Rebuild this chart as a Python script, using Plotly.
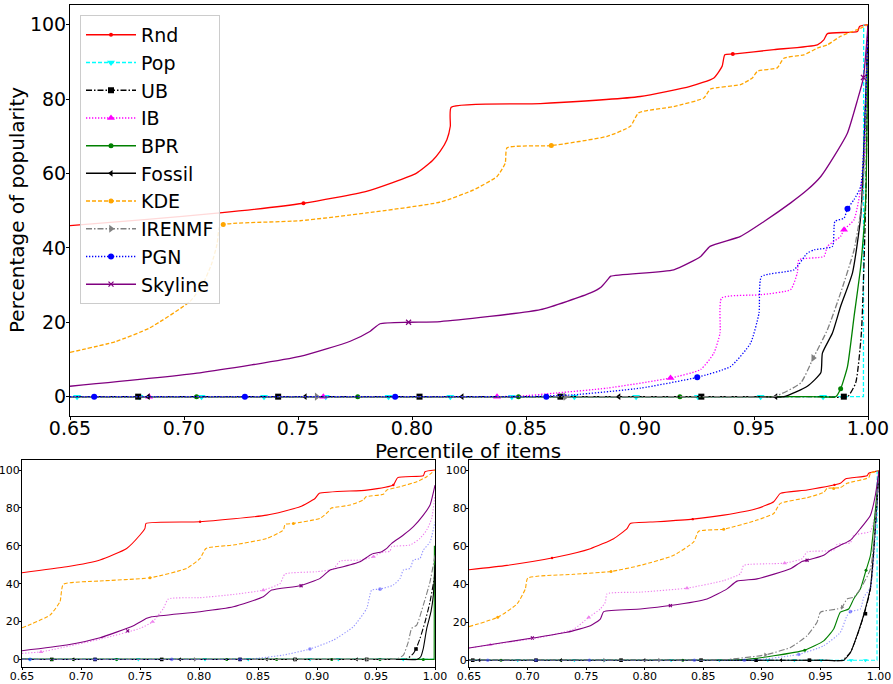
import plotly.graph_objects as go

# ---------------- series names and ticks ----------------
SERIES = ["Rnd", "Pop", "UB", "IB", "BPR", "Fossil", "KDE", "IRENMF", "PGN", "Skyline"]
X_TICKS = [0.65, 0.70, 0.75, 0.80, 0.85, 0.90, 0.95, 1.00]
X_TICK_TEXT = ["0.65", "0.70", "0.75", "0.80", "0.85", "0.90", "0.95", "1.00"]
Y_TICKS = [0, 20, 40, 60, 80, 100]

# ---------------- main panel (x, y) ----------------
main_rnd = [(0.65, 46.0), (0.6826, 47.6), (0.7157, 49.4), (0.7524, 52.0), (0.780, 55.2), (0.802, 60.1),
            (0.809, 63.5), (0.8124, 66.0), (0.8153, 69.1), (0.8168, 72.7), (0.8172, 77.8), (0.8563, 78.8),
            (0.9001, 80.7), (0.922, 83.4), (0.9324, 85.7), (0.936, 88.8), (0.9372, 91.9), (0.9407, 92.1),
            (0.9588, 93.3), (0.9778, 94.6), (0.9807, 96.0), (0.9822, 97.6), (0.9954, 98.2), (0.9963, 99.5), (1.0, 100)]
main_pop = [(0.65, 0), (0.998, 0), (0.9981, 100)]
main_ub = [(0.65, 0), (0.98, 0), (0.991, 0), (0.9946, 3.7), (0.9971, 17.1), (0.999, 53), (1.0, 100)]
main_ib = [(0.65, 0), (0.82, 0), (0.846, 0.1), (0.8636, 1.0), (0.8856, 2.3), (0.9134, 5.0), (0.9266, 7.3), (0.9324, 11.7),
           (0.9351, 17.1), (0.9358, 26.5), (0.9529, 27.4), (0.9661, 28.8), (0.969, 33.3), (0.9697, 36.8),
           (0.9807, 37.7), (0.9822, 40.4), (0.988, 43.1), (0.9895, 44.9), (0.9939, 47.6), (0.9982, 61.9), (1.0, 100)]
main_bpr = [(0.65, 0), (0.975, 0), (0.9859, 0), (0.988, 2.1), (0.991, 8.1), (0.9939, 21.6), (0.9968, 35), (0.999, 53), (1.0, 100)]
main_fossil = [(0.65, 0), (0.95, 0), (0.9632, 0), (0.9734, 2.8), (0.9793, 6.4), (0.980, 11.7), (0.9844, 17.1), (0.988, 24.3),
               (0.9932, 33.3), (0.9968, 48.5), (1.0, 100)]
main_kde = [(0.65, 11.9), (0.67, 14.8), (0.685, 18.5), (0.7026, 25.6), (0.708, 30.0), (0.712, 35.5), (0.7145, 41.0),
            (0.7155, 45.5), (0.7172, 46.3), (0.7509, 47.3), (0.7802, 49.4), (0.8124, 52.3), (0.827, 55.6),
            (0.8373, 59.2), (0.8409, 62.8), (0.8417, 66.9), (0.8611, 67.5), (0.8856, 70.0), (0.8958, 72.7),
            (0.8994, 76.3), (0.9148, 78.0), (0.928, 80.3), (0.9309, 82.7), (0.9441, 83.9), (0.9493, 85.7),
            (0.9515, 87.5), (0.9602, 88.4), (0.9631, 91.0), (0.9719, 91.9), (0.9778, 93.7), (0.9822, 94.6),
            (0.988, 96.9), (0.9954, 98.7), (1.0, 100)]
main_irenmf = [(0.65, 0), (0.945, 0), (0.9588, 0), (0.9705, 3.7), (0.976, 10.4), (0.9822, 18.0), (0.988, 27.9), (0.9939, 39.5),
               (0.9975, 53), (1.0, 100)]
main_pgn = [(0.65, 0), (0.83, 0), (0.85, 0), (0.8709, 0.5), (0.9002, 2.3), (0.9251, 5.2), (0.9397, 8.1), (0.9485, 14.4),
            (0.9522, 22.5), (0.9533, 32.3), (0.9675, 34.1), (0.9734, 38.6), (0.9766, 39.5), (0.9844, 40.4),
            (0.9855, 47.1), (0.9895, 48.0), (0.991, 50.5), (0.9939, 53), (0.9968, 56.5), (1.0, 100)]
main_skyline = [(0.65, 2.8), (0.707, 6.4), (0.7509, 10.8), (0.7729, 14.9), (0.7817, 17.6), (0.786, 19.6),
                (0.7985, 20.0), (0.8124, 20.2), (0.8563, 23.4), (0.8783, 27.9), (0.883, 29.5), (0.886, 31.6),
                (0.8872, 32.4), (0.9148, 34.1), (0.9266, 37.7), (0.9307, 40.4), (0.9441, 43.1), (0.9544, 47.1),
                (0.9661, 52.1), (0.9734, 55.6), (0.9793, 59.2), (0.9851, 64.6), (0.991, 70.9), (0.9954, 79.8),
                (0.998, 85.8), (1.0, 100)]

# main panel marker positions
main_rnd_mk = [(0.7524, 52.0), (0.9407, 92.1)]
main_pop_mk = [(0.6531, 0), (0.6804, 0), (0.7077, 0), (0.7351, 0), (0.7622, 0), (0.7897, 0), (0.8168, 0),
               (0.8438, 0), (0.8712, 0), (0.8983, 0), (0.9254, 0), (0.9529, 0), (0.9803, 0)]
main_ub_mk = [(0.6799, 0), (0.7413, 0), (0.8033, 0), (0.8651, 0), (0.9269, 0), (0.9894, 0)]
main_ib_mk = [(0.6847, 0), (0.7611, 0), (0.8373, 0), (0.9134, 5.0), (0.9895, 44.9)]
main_bpr_mk = [(0.7055, 0), (0.7762, 0), (0.8467, 0), (0.9175, 0), (0.988, 2.1)]
main_fossil_mk = [(0.6843, 0), (0.7531, 0), (0.8219, 0), (0.8907, 0), (0.9595, 0)]
main_kde_mk = [(0.7172, 46.3), (0.8611, 67.5)]
main_irenmf_mk = [(0.7582, 0), (0.8673, 0), (0.976, 10.4)]
main_pgn_mk = [(0.6606, 0), (0.7267, 0), (0.7926, 0), (0.8589, 0), (0.9251, 5.2), (0.991, 50.5)]
main_skyline_mk = [(0.7985, 20.0), (0.998, 85.8)]

# ---------------- bottom-left panel ----------------
bl_rnd = [(0.65, 45.8), (0.6879, 48.9), (0.7161, 52.5), (0.7387, 58.6), (0.75, 65.7), (0.7542, 69.2), (0.7551, 71.8),
          (0.8009, 72.7), (0.8574, 76.2), (0.8856, 80.6), (0.8983, 85.0), (0.902, 87.7), (0.9421, 89.4),
          (0.9647, 92.1), (0.9684, 96.0), (0.9901, 97.0), (0.9915, 99.1), (1.0, 100)]
bl_pop = [(0.65, 0), (1.0, 0)]
bl_ub = [(0.65, 0), (0.96, 0), (0.976, 0.2), (0.9817, 3.2), (0.9839, 5.5), (0.9873, 11.1), (0.9916, 19.9), (0.9958, 30.5), (1.0, 45)]
bl_ib = [(0.65, 3.2), (0.6661, 4.0), (0.7161, 10.7), (0.75, 16.4), (0.7607, 19.9), (0.7698, 26.9), (0.774, 31.9),
         (0.8009, 32.6), (0.8291, 34.3), (0.8545, 36.6), (0.8687, 40.1), (0.8729, 45.1), (0.8997, 46.3),
         (0.9139, 47.7), (0.9195, 51.9), (0.9365, 52.5), (0.9478, 54.2), (0.9548, 56.5), (0.9619, 57.2),
         (0.9633, 59.5), (0.9788, 60.4), (0.9873, 63.9), (0.993, 68.3), (0.9972, 74.5), (1.0, 86.8)]
bl_bpr = [(0.65, 0), (0.9993, 0), (0.9995, 60)]
bl_fossil = [(0.65, 0), (0.97, 0), (0.9845, 0), (0.9879, 1.4), (0.9901, 5.8), (0.993, 16.4), (0.9966, 25.2), (0.9986, 34), (1.0, 50)]
bl_kde = [(0.65, 16.7), (0.6737, 23.4), (0.6822, 30.5), (0.685, 39.6), (0.7161, 41.4), (0.7585, 43.1), (0.7896, 48.1),
          (0.8009, 53.3), (0.8059, 58.6), (0.8291, 60.4), (0.8574, 63.9), (0.8715, 68.3), (0.8729, 71.3),
          (0.88, 71.8), (0.9026, 74.5), (0.9096, 78.0), (0.9119, 79.8), (0.928, 81.5), (0.9393, 84.2),
          (0.9416, 85.9), (0.9562, 87.2), (0.9591, 89.4), (0.9704, 91.2), (0.9845, 93.8), (0.993, 96.5), (1.0, 100)]
bl_irenmf = [(0.65, 0), (0.95, 0), (0.9675, 0.2), (0.9732, 2.3), (0.9774, 9.3), (0.9802, 16.4), (0.9845, 18.1), (0.9901, 28.7),
             (0.9958, 41), (1.0, 55)]
bl_pgn = [(0.65, 0), (0.82, 0), (0.8432, 0.2), (0.8715, 2.3), (0.894, 5.5), (0.9139, 10.2), (0.9308, 17.3), (0.9421, 26.9),
          (0.9463, 36.6), (0.9534, 37.1), (0.9647, 39.3), (0.9704, 42.8), (0.9732, 47.2), (0.9789, 48.1),
          (0.9817, 52.5), (0.9873, 53.3), (0.9901, 57.7), (0.9958, 62.1), (1.0, 72.7)]
bl_skyline = [(0.65, 4.6), (0.6879, 7.6), (0.7161, 11.4), (0.7444, 17.8), (0.7557, 21.7), (0.7599, 22.5),
              (0.8009, 25.2), (0.8291, 27.8), (0.8545, 33.1), (0.8616, 36.6), (0.8856, 38.9), (0.9026, 42.8),
              (0.911, 47.2), (0.9167, 48.1), (0.9365, 51.6), (0.9463, 55.6), (0.9548, 56.9), (0.9591, 58.6),
              (0.9633, 61.3), (0.9732, 65.7), (0.9817, 70.1), (0.9901, 76.2), (0.9958, 81.5), (1.0, 92)]

bl_rnd_mk = [(0.8009, 72.7), (0.9647, 92.1)]
bl_pop_mk = [(0.6568, 0), (0.7302, 0), (0.7486, 0), (0.8051, 0), (0.8418, 0), (0.8941, 0), (0.9181, 0), (0.9534, 0), (0.9731, 0)]
bl_ub_mk = [(0.6752, 0), (0.7119, 0), (0.7684, 0), (0.8348, 0), (0.8814, 0), (0.9421, 0), (0.9839, 5.5)]
bl_ib_mk = [(0.6661, 4.0), (0.7607, 19.9), (0.8545, 36.6), (0.9478, 54.2)]
bl_bpr_mk = [(0.6752, 0), (0.6935, 0), (0.7302, 0), (0.8235, 0), (0.8658, 0), (0.9125, 0), (0.9534, 0), (0.9901, 0)]
bl_fossil_mk = [(0.6935, 0), (0.7839, 0), (0.8574, 0), (0.9337, 0)]
bl_kde_mk = [(0.7585, 43.1), (0.88, 71.8)]
bl_irenmf_mk = [(0.7966, 0), (0.8814, 0), (0.9421, 0)]
bl_pgn_mk = [(0.6568, 0), (0.7119, 0), (0.7769, 0), (0.8348, 0), (0.894, 5.5), (0.9534, 37.1)]
bl_skyline_mk = [(0.7396, 15.1), (0.8865, 38.9)]

# ---------------- bottom-right panel ----------------
br_rnd = [(0.65, 47.7), (0.6824, 50.0), (0.7251, 54.4), (0.7536, 58.8), (0.7735, 64.1), (0.7849, 69.4), (0.7877, 72.1),
          (0.8105, 73.0), (0.841, 74.4), (0.8674, 76.5), (0.8959, 80.0), (0.9101, 83.6), (0.9158, 88.0),
          (0.9386, 89.8), (0.967, 93.3), (0.9713, 95.6), (0.9898, 97.3), (0.9912, 98.6), (1.0, 100)]
br_pop = [(0.65, 0), (0.9983, 0), (0.9984, 100)]
br_ub = [(0.65, 0), (0.95, 0), (0.9685, 0), (0.9756, 4.1), (0.9813, 12.9), (0.987, 23.5), (0.9927, 37.6), (1.0, 100)]
br_ib = [(0.65, 6.4), (0.6682, 8.1), (0.7109, 12.0), (0.7394, 16.4), (0.7522, 22.6), (0.7621, 27.0), (0.7664, 30.6),
         (0.7678, 35.0), (0.7963, 35.9), (0.8361, 38.0), (0.8674, 42.0), (0.8817, 45.6), (0.8845, 50.0),
         (0.9101, 50.9), (0.9195, 51.2), (0.9343, 53.5), (0.9386, 57.1), (0.9613, 58.0), (0.9642, 61.0),
         (0.9756, 62.0), (0.9784, 65.9), (0.9927, 68.0), (0.9969, 78.3), (1.0, 100)]
br_bpr = [(0.65, 0), (0.86, 0), (0.8817, 0.2), (0.9101, 2.3), (0.9366, 5.3), (0.9528, 10.2), (0.9613, 16.4), (0.967, 25.3),
          (0.9741, 27.0), (0.9784, 32.3), (0.9841, 37.6), (0.9889, 47.4), (0.9927, 55.3), (1.0, 100)]
br_fossil = [(0.65, 0), (0.95, 0), (0.970, 0), (0.976, 4.5), (0.9815, 13.5), (0.9872, 24.5), (0.9927, 38.5), (1.0, 100)]
br_kde = [(0.65, 17.7), (0.6745, 22.6), (0.691, 29.7), (0.6981, 37.6), (0.7001, 43.3), (0.7394, 45.3), (0.7712, 46.8),
          (0.7963, 50.0), (0.8247, 55.3), (0.8418, 62.4), (0.8461, 68.0), (0.8674, 69.1), (0.8959, 73.9),
          (0.9101, 77.4), (0.9158, 82.7), (0.9386, 85.7), (0.9528, 88.5), (0.9557, 90.6), (0.967, 91.0),
          (0.9727, 93.3), (0.9912, 96.3), (0.9927, 98.6), (1.0, 100)]
br_irenmf = [(0.65, 0), (0.85, 0), (0.8674, 0.2), (0.903, 2.8), (0.9244, 6.7), (0.9386, 12.9), (0.9471, 20.0), (0.950, 25.3),
             (0.9642, 27.0), (0.9685, 27.9), (0.9727, 32.3), (0.9784, 33.2), (0.9841, 37.6), (0.9927, 48.2), (1.0, 100)]
br_pgn = [(0.65, 0), (0.87, 0), (0.8959, 0.2), (0.9244, 2.3), (0.9315, 3.0), (0.9528, 7.6), (0.967, 14.7), (0.9727, 23.5),
          (0.9756, 25.6), (0.9841, 27.0), (0.987, 33.2), (0.9927, 38.5), (1.0, 100)]
br_skyline = [(0.65, 6.4), (0.7041, 11.7), (0.7337, 14.7), (0.7536, 18.2), (0.7621, 21.7), (0.765, 25.6),
              (0.7963, 27.0), (0.8219, 28.8), (0.8532, 32.3), (0.8703, 37.6), (0.8788, 41.7), (0.8959, 42.9),
              (0.9244, 48.2), (0.9343, 52.1), (0.9386, 52.7), (0.9528, 55.3), (0.9585, 58.0), (0.967, 60.6),
              (0.9756, 63.3), (0.9841, 69.4), (0.9927, 76.5), (0.9969, 87.0), (1.0, 100)]

br_rnd_mk = [(0.7209, 53.9), (0.841, 74.4), (0.962, 92.5)]
br_pop_mk = [(0.6916, 0), (0.74, 0), (0.7656, 0), (0.8225, 0), (0.8638, 0), (0.9051, 0), (0.9278, 0), (0.9506, 0), (0.9762, 0), (0.9884, 0)]
br_ub_mk = [(0.6532, 0), (0.7072, 0), (0.7798, 0), (0.8481, 0), (0.8951, 0), (0.9406, 0), (0.9884, 24.5)]
br_ib_mk = [(0.6682, 8.1), (0.7522, 22.6), (0.8361, 38.0), (0.9195, 51.2)]
br_bpr_mk = [(0.6773, 0), (0.7286, 0), (0.8325, 0), (0.9366, 5.3), (0.9889, 47.4)]
br_fossil_mk = [(0.6588, 0), (0.7286, 0), (0.7997, 0), (0.9164, 0)]
br_kde_mk = [(0.6745, 22.6), (0.7712, 46.8), (0.8674, 69.1), (0.9613, 90.5)]
br_irenmf_mk = [(0.7656, 0), (0.8125, 0), (0.903, 2.8), (0.9685, 27.9)]
br_pgn_mk = [(0.666, 0), (0.7072, 0), (0.7528, 0), (0.8424, 0), (0.8851, 0), (0.9315, 3.0), (0.9756, 25.6)]
br_skyline_mk = [(0.7041, 11.7), (0.8219, 28.8), (0.9386, 52.7)]

# ---------------- styles ----------------
DASHDOT = "6px,2px,1.5px,2px"
DASHED = "4px,2px"
DOTTED = "1.3px,1.7px"
STYLE = {
    "Rnd": dict(color="#ff0000", dash="solid", symbol="circle", size=4),
    "Pop": dict(color="#00ffff", dash=DASHED, symbol="triangle-down", size=7),
    "UB": dict(color="#000000", dash=DASHDOT, symbol="square", size=6),
    "IB": dict(color="#ff00ff", dash=DOTTED, symbol="triangle-up", size=7),
    "BPR": dict(color="#008000", dash="solid", symbol="circle", size=5),
    "Fossil": dict(color="#000000", dash="solid", symbol="triangle-left", size=6),
    "KDE": dict(color="#ffa500", dash=DASHED, symbol="circle", size=5),
    "IRENMF": dict(color="#808080", dash=DASHDOT, symbol="triangle-right", size=7),
    "PGN": dict(color="#0000ff", dash=DOTTED, symbol="circle", size=6),
    "Skyline": dict(color="#800080", dash="solid", symbol="x-thin", size=5),
}
BOTTOM_COLOR = {"IB": "#ee82ee", "PGN": "rgba(60,60,255,0.55)"}

panels = [
    ("x", "y", {"Rnd": (main_rnd, main_rnd_mk), "Pop": (main_pop, main_pop_mk), "UB": (main_ub, main_ub_mk),
                "IB": (main_ib, main_ib_mk), "BPR": (main_bpr, main_bpr_mk), "Fossil": (main_fossil, main_fossil_mk),
                "KDE": (main_kde, main_kde_mk), "IRENMF": (main_irenmf, main_irenmf_mk),
                "PGN": (main_pgn, main_pgn_mk), "Skyline": (main_skyline, main_skyline_mk)}, 1.3, 1.0, False),
    ("x2", "y2", {"Rnd": (bl_rnd, bl_rnd_mk), "Pop": (bl_pop, bl_pop_mk), "UB": (bl_ub, bl_ub_mk),
                  "IB": (bl_ib, bl_ib_mk), "BPR": (bl_bpr, bl_bpr_mk), "Fossil": (bl_fossil, bl_fossil_mk),
                  "KDE": (bl_kde, bl_kde_mk), "IRENMF": (bl_irenmf, bl_irenmf_mk),
                  "PGN": (bl_pgn, bl_pgn_mk), "Skyline": (bl_skyline, bl_skyline_mk)}, 1.1, 0.6, True),
    ("x3", "y3", {"Rnd": (br_rnd, br_rnd_mk), "Pop": (br_pop, br_pop_mk), "UB": (br_ub, br_ub_mk),
                  "IB": (br_ib, br_ib_mk), "BPR": (br_bpr, br_bpr_mk), "Fossil": (br_fossil, br_fossil_mk),
                  "KDE": (br_kde, br_kde_mk), "IRENMF": (br_irenmf, br_irenmf_mk),
                  "PGN": (br_pgn, br_pgn_mk), "Skyline": (br_skyline, br_skyline_mk)}, 1.1, 0.6, True),
]

fig = go.Figure()
for xa, ya, data, lw, mscale, bottom in panels:
    for name in SERIES:
        pts, mks = data[name]
        st = STYLE[name]
        color = BOTTOM_COLOR.get(name, st["color"]) if bottom else st["color"]
        shape = "linear" if len(pts) <= 3 else "spline"
        fig.add_trace(go.Scatter(
            x=[p[0] for p in pts], y=[p[1] for p in pts], mode="lines",
            line=dict(color=color, width=lw, dash=st["dash"], shape=shape, smoothing=0.5),
            xaxis=xa, yaxis=ya, showlegend=False, hoverinfo="skip"))
        mline = dict(width=1.2, color=color) if st["symbol"] == "x-thin" else dict(width=0)
        fig.add_trace(go.Scatter(
            x=[p[0] for p in mks], y=[p[1] for p in mks], mode="markers",
            marker=dict(symbol=st["symbol"], size=st["size"] * mscale, color=color, line=mline),
            xaxis=xa, yaxis=ya, showlegend=False, hoverinfo="skip", cliponaxis=False))

# legend entries (no data)
for name in SERIES:
    st = STYLE[name]
    mline = dict(width=1.2, color=st["color"]) if st["symbol"] == "x-thin" else dict(width=0)
    fig.add_trace(go.Scatter(
        x=[None], y=[None], mode="lines+markers", name=name,
        line=dict(color=st["color"], width=1.5, dash=st["dash"]),
        marker=dict(symbol=st["symbol"], size=st["size"], color=st["color"], line=mline),
        xaxis="x", yaxis="y", showlegend=True))

W, H = 893, 684
def dom(a, b, total):
    return [a / total, b / total]

axis_common = dict(showgrid=False, zeroline=False, showline=True, mirror=True, linecolor="black",
                   linewidth=1, ticks="outside", tickcolor="black", tickwidth=1, automargin=False)
main_ax = dict(ticklen=3, tickfont=dict(size=19), **axis_common)
small_ax = dict(ticklen=2, tickfont=dict(size=11), ticklabelstandoff=-3, **axis_common)

fig.update_layout(
    template="none",
    width=W, height=H, margin=dict(l=0, r=0, t=0, b=0, autoexpand=False),
    paper_bgcolor="white", plot_bgcolor="white",
    font=dict(family="DejaVu Sans", color="black"),
    xaxis=dict(domain=dom(70, 868, W), range=[0.65, 1.0], tickvals=X_TICKS, ticktext=X_TICK_TEXT,
               anchor="y", ticklabelstandoff=-8, **main_ax),
    yaxis=dict(domain=[1 - 416 / H, 1 - 5 / H], range=[-5.2, 105.3], tickvals=Y_TICKS,
               anchor="x", ticklabelstandoff=-4, **main_ax),
    xaxis2=dict(domain=dom(22, 435, W), range=[0.65, 1.0], tickvals=X_TICKS, ticktext=X_TICK_TEXT,
                anchor="y2", **small_ax),
    yaxis2=dict(domain=[1 - 667 / H, 1 - 460 / H], range=[-4.0, 105.3], tickvals=Y_TICKS,
                anchor="x2", **small_ax),
    xaxis3=dict(domain=dom(469, 879, W), range=[0.65, 1.0], tickvals=X_TICKS, ticktext=X_TICK_TEXT,
                anchor="y3", **small_ax),
    yaxis3=dict(domain=[1 - 667 / H, 1 - 460 / H], range=[-3.6, 105.6], tickvals=Y_TICKS,
                anchor="x3", **small_ax),
    legend=dict(x=80 / W, y=1 - 15 / H, xanchor="left", yanchor="top", font=dict(size=19),
                bgcolor="rgba(255,255,255,0.85)", bordercolor="#cccccc", borderwidth=1,
                itemwidth=50),
    annotations=[
        dict(text="Percentile of items", x=468 / W, y=1 - 451 / H, xref="paper", yref="paper",
             showarrow=False, font=dict(size=20), xanchor="center", yanchor="middle"),
        dict(text="Percentage of popularity", x=17 / W, y=1 - 210 / H, xref="paper", yref="paper",
             showarrow=False, font=dict(size=20), textangle=-90, xanchor="center", yanchor="middle"),
    ],
)

fig.write_html("out.html", config={"displayModeBar": False},
               post_script="document.body.style.margin='0';document.body.style.padding='0';")
